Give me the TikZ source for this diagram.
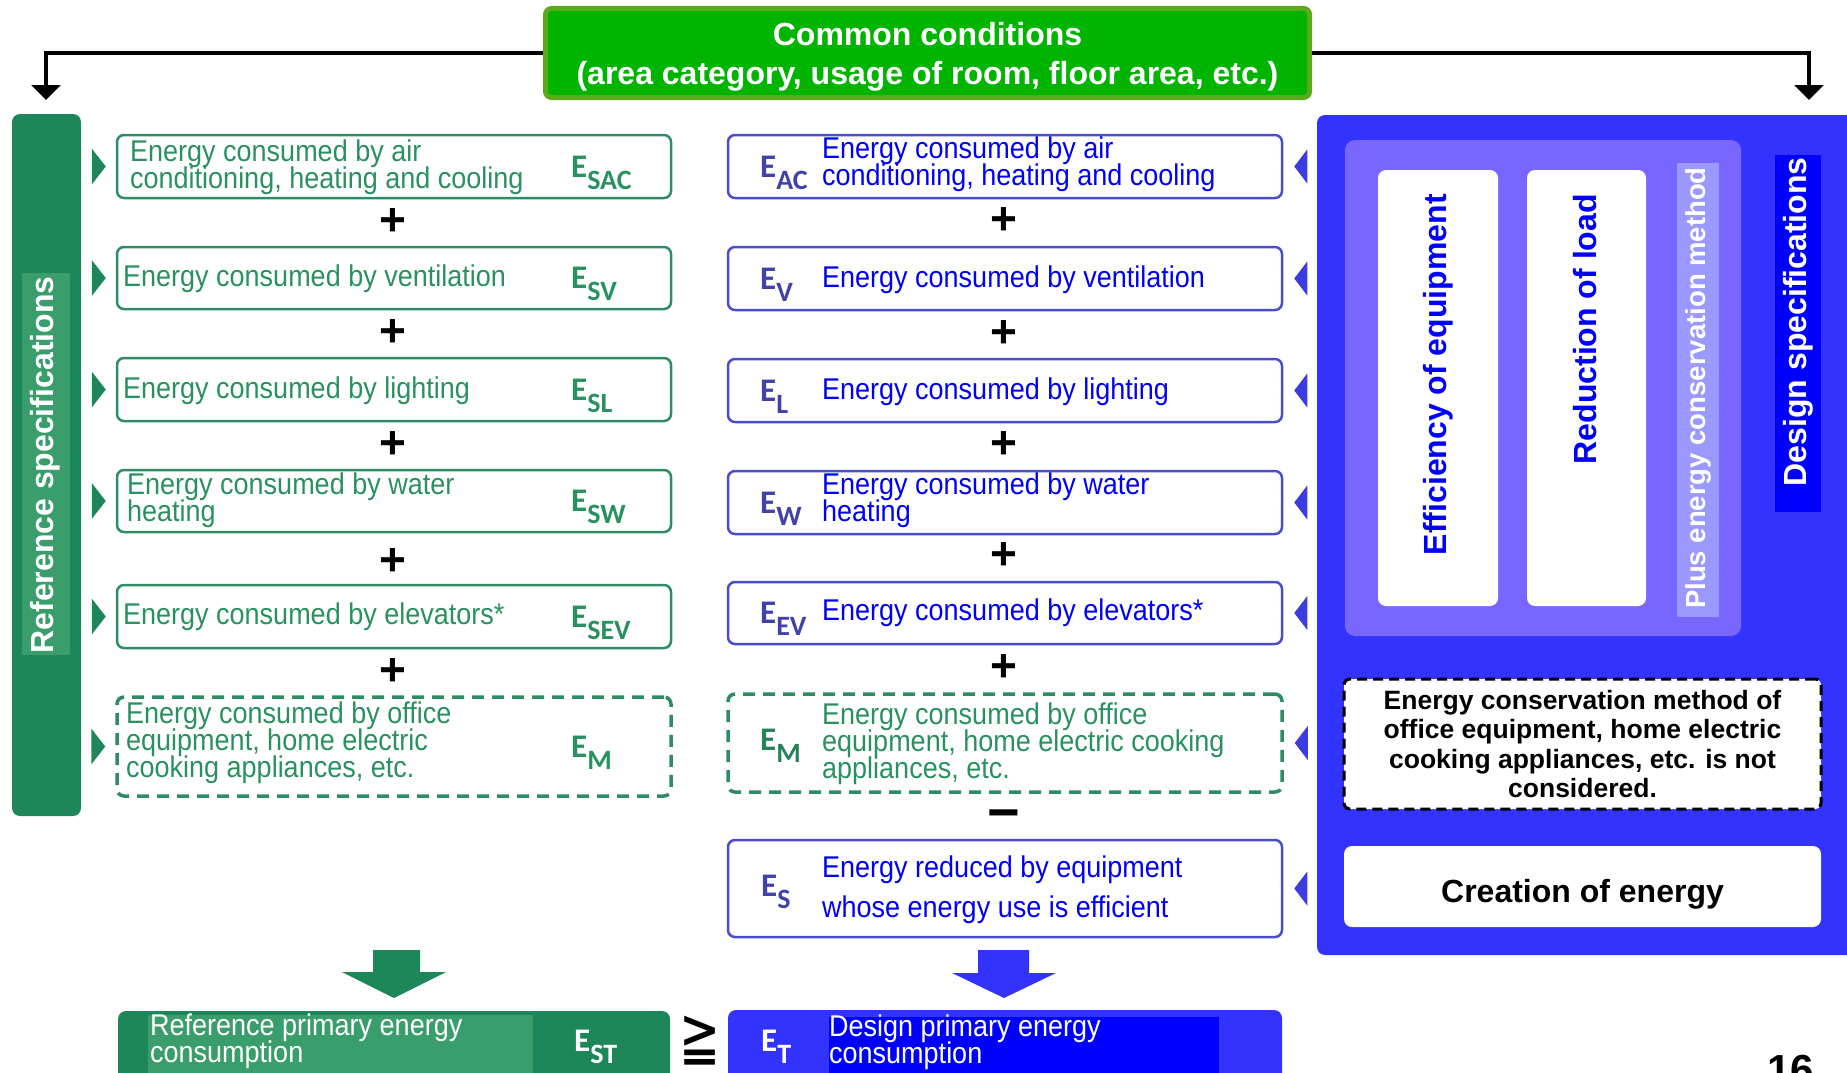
\documentclass[tikz,border=0pt]{standalone}
\usepackage{fontspec}
\setmainfont{Liberation Sans}
\newfontfamily\bodyfam[FakeStretch=0.9]{Liberation Sans}
\newfontfamily\efont{Carlito}
\newfontfamily\djv{DejaVu Sans}
\usetikzlibrary{arrows.meta}

\definecolor{gbar}{RGB}{29,135,90}
\definecolor{gband}{RGB}{58,158,108}
\definecolor{gtext}{RGB}{40,145,95}
\definecolor{gline}{RGB}{45,140,100}
\definecolor{gE}{RGB}{38,130,88}
\definecolor{ctop}{RGB}{0,180,0}
\definecolor{ctopline}{RGB}{90,170,25}
\definecolor{bpanel}{RGB}{51,51,255}
\definecolor{bpurple}{RGB}{120,102,255}
\definecolor{blav}{RGB}{155,152,255}
\definecolor{bpure}{RGB}{0,0,255}
\definecolor{btext}{RGB}{0,0,245}
\definecolor{bline}{RGB}{75,75,205}
\definecolor{bE}{RGB}{65,65,170}
\definecolor{btri}{RGB}{60,60,225}

\newcommand\bodyfont{\bodyfam\fontsize{30}{27}\selectfont\lineskiplimit=-50pt\lineskip=0pt\relax}
\newcommand\Esym[1]{{\efont\bfseries\fontsize{33}{33}\selectfont E\raisebox{-12pt}{\fontsize{28}{28}\selectfont #1}}}

\tikzset{
  gbox/.style={draw=gline, line width=2.5, rounded corners=7, minimum width=554, inner sep=0},
  bbox/.style={draw=bline, line width=2.5, rounded corners=7, minimum width=554, inner sep=0},
  gdash/.style={draw=gline, line width=3.5, dash pattern=on 12pt off 8pt, rounded corners=7, minimum width=554, inner sep=0},
  gtxt/.style={anchor=west, align=left, inner sep=0, text=gtext, font=\bodyfont},
  btxt/.style={anchor=west, align=left, inner sep=0, text=btext, font=\bodyfont},
  wtxt/.style={anchor=west, align=left, inner sep=0, text=white, font=\bodyfont},
  esym/.style={anchor=base west, inner sep=0},
  plus/.style={inner sep=0, font=\bfseries\fontsize{46}{46}\selectfont},
  conn/.style={line width=3.5, -{Triangle[width=29pt,length=15pt]}},
  rottxt/.style={rotate=90, inner sep=0, text=white, font=\bfseries\fontsize{32}{32}\selectfont},
  bluerot/.style={rotate=90, inner sep=0, text=bpure, font=\bfseries\fontsize{32}{32}\selectfont},
}

\begin{document}
\begin{tikzpicture}[x=1pt,y=-1pt]
\useasboundingbox (0,0) rectangle (1847,1073);

% common conditions
\node[fill=ctop, draw=ctopline, line width=5, rounded corners=6, minimum width=764, minimum height=89, inner sep=0] (common) at (927.5,53) {};
\node[text=white, align=center, inner sep=0, font=\bfseries\fontsize{32}{39}\selectfont] (commontxt) at (927.5,57)
  {Common conditions\\(area category, usage of room, floor area, etc.)};
\coordinate (tl) at (46,100);
\coordinate (tr) at (1809,100);
\draw[conn] (common.west) -| (tl);
\draw[conn] (common.east) -| (tr);

% reference bar
\node[fill=gbar, rounded corners=8, minimum width=69, minimum height=702, inner sep=0] (refbar) at (46.5,465) {};
\node[fill=gband, minimum width=48, minimum height=382, inner sep=0] (refband) at (46,464) {};
\node[rottxt] (reftxt) at (45,465) {Reference specifications};

% design panel
\node[fill=bpanel, rounded corners=8, minimum width=545, minimum height=840, inner sep=0] (dpanel) at (1589.5,535) {};
\node[fill=bpurple, rounded corners=10, minimum width=396, minimum height=496, inner sep=0] (inner) at (1543,388) {};
\node[fill=white, rounded corners=8, minimum width=120, minimum height=436, inner sep=0] (eff) at (1438,388) {};
\node[fill=white, rounded corners=8, minimum width=119, minimum height=436, inner sep=0] (red) at (1586.5,388) {};
\node[fill=blav, minimum width=42, minimum height=454, inner sep=0] (plusband) at (1698,389.5) {};
\node[fill=bpure, minimum width=46, minimum height=357, inner sep=0] (dband) at (1798,333) {};
\node[bluerot, anchor=east] (efftxt) at (1438,194) {Efficiency of equipment};
\node[bluerot, anchor=east] (redtxt) at (1585,194) {Reduction of load};
\node[rotate=90, inner sep=0, text=white, font=\bfseries\fontsize{27.5}{27.5}\selectfont] (plustxt) at (1698,388) {Plus energy conservation method};
\node[rottxt, anchor=east] (dtxt) at (1798,157) {Design specifications};
\node[fill=white, draw=black, line width=3, dash pattern=on 10pt off 6pt, rounded corners=6, minimum width=477, minimum height=130,
      inner sep=0, align=center, font=\bfseries\fontsize{26.5}{29.5}\selectfont] (notcons) at (1582.5,744)
  {Energy conservation method of\\office equipment, home electric\\cooking appliances, etc. is not\\considered.};
\node[fill=white, rounded corners=8, minimum width=477, minimum height=81, inner sep=0] (creation) at (1582.5,886.5) {};
\node[inner sep=0, font=\bfseries\fontsize{32}{32}\selectfont] (creationtxt) at (1582.5,894) {Creation of energy};

% left column boxes
\node[gbox, minimum height=63] (L1) at (394,166.5) {};
\node[gbox, minimum height=62] (L2) at (394,278) {};
\node[gbox, minimum height=63] (L3) at (394,389.5) {};
\node[gbox, minimum height=62] (L4) at (394,501) {};
\node[gbox, minimum height=63] (L5) at (394,616.5) {};
\node[gdash, minimum height=99] (L6) at (394,746.5) {};

\node[gtxt] (L1t) at (130,167) {Energy consumed by air\\conditioning, heating and cooling};
\node[gtxt] (L2t) at (123,279) {Energy consumed by ventilation};
\node[gtxt] (L3t) at (123,390.5) {Energy consumed by lighting};
\node[gtxt] (L4t) at (127,500) {Energy consumed by water\\heating};
\node[gtxt] (L5t) at (123,617) {Energy consumed by elevators*};
\node[gtxt] (L6t) at (126,743) {Energy consumed by office\\equipment, home electric\\cooking appliances, etc.};

\node[esym, text=gtext] (L1e) at (571,177) {\Esym{SAC}};
\node[esym, text=gtext] (L2e) at (571,288.5) {\Esym{SV}};
\node[esym, text=gtext] (L3e) at (571,400) {\Esym{SL}};
\node[esym, text=gtext] (L4e) at (571,511.5) {\Esym{SW}};
\node[esym, text=gtext] (L5e) at (571,627) {\Esym{SEV}};
\node[esym, text=gtext] (L6e) at (571,757) {\Esym{M}};

\foreach \n in {L1,L2,L3,L4,L5,L6}
  \fill[gbar, shift={(\n.west)}] (-24,-18) -- (-10,0) -- (-24,18) -- cycle;

\node[plus] (lp1) at (393,222) {+};
\node[plus] (lp2) at (393,333) {+};
\node[plus] (lp3) at (393,445) {+};
\node[plus] (lp4) at (393,562) {+};
\node[plus] (lp5) at (393,672) {+};

% middle column boxes
\node[bbox, minimum height=63] (M1) at (1005,166.5) {};
\node[bbox, minimum height=63] (M2) at (1005,278.5) {};
\node[bbox, minimum height=63] (M3) at (1005,390.5) {};
\node[bbox, minimum height=63] (M4) at (1005,502.5) {};
\node[bbox, minimum height=62] (M5) at (1005,613) {};
\node[gdash, minimum height=98] (M6) at (1005,743) {};
\node[bbox, minimum height=97] (M7) at (1005,888.5) {};

\node[btxt] (M1t) at (822,164.5) {Energy consumed by air\\conditioning, heating and cooling};
\node[btxt] (M2t) at (822,279.5) {Energy consumed by ventilation};
\node[btxt] (M3t) at (822,391.5) {Energy consumed by lighting};
\node[btxt] (M4t) at (822,500) {Energy consumed by water\\heating};
\node[btxt] (M5t) at (822,613) {Energy consumed by elevators*};
\node[gtxt] (M6t) at (822,744) {Energy consumed by office\\equipment, home electric cooking\\appliances, etc.};
\node[btxt, font=\bodyfam\fontsize{30}{40}\selectfont] (M7t) at (822,890) {Energy reduced by equipment\\whose energy use is efficient};

\node[esym, text=bE] (M1e) at (760,177) {\Esym{AC}};
\node[esym, text=bE] (M2e) at (760,289) {\Esym{V}};
\node[esym, text=bE] (M3e) at (760,401) {\Esym{L}};
\node[esym, text=bE] (M4e) at (760,513) {\Esym{W}};
\node[esym, text=bE] (M5e) at (760,623.5) {\Esym{EV}};
\node[esym, text=gE] (M6e) at (760,750) {\Esym{M}};
\node[esym, text=bE] (M7e) at (761,896) {\Esym{S}};

\foreach \n in {M1,M2,M3,M4,M5,M6,M7}
  \fill[btri, shift={(\n.east)}] (24,-17) -- (11,0) -- (24,17) -- cycle;

\node[plus] (mp1) at (1004,221) {+};
\node[plus] (mp2) at (1004,334) {+};
\node[plus] (mp3) at (1004,445) {+};
\node[plus] (mp4) at (1004,556) {+};
\node[plus] (mp5) at (1004,668) {+};
\node[plus] (mm) at (1004,821) {\fontsize{56}{56}\selectfont −};

% block arrows
\fill[gbar] (373,950) -- (420,950) -- (420,972) -- (446,972) -- (394,998) -- (342,972) -- (373,972) -- cycle;
\fill[bpanel] (978,950) -- (1029,950) -- (1029,973) -- (1056,973) -- (1004,998) -- (952,973) -- (978,973) -- cycle;

% bottom totals
\node[fill=gbar, rounded corners=8, minimum width=552, minimum height=90, inner sep=0] (RT) at (394,1056) {};
\fill[gband] (148,1015) rectangle (533,1101);
\node[wtxt] (RTt) at (150,1041) {Reference primary energy\\consumption};
\node[esym, text=white] (RTe) at (574,1051.5) {\Esym{ST}};

\node[fill=bpanel, rounded corners=8, minimum width=554, minimum height=90, inner sep=0] (DT) at (1005,1055) {};
\fill[bpure] (829,1017) rectangle (1219,1101);
\node[wtxt] (DTt) at (829,1042) {Design primary energy\\consumption};
\node[esym, text=white] (DTe) at (761,1051.5) {\Esym{T}};

\node[inner sep=0, font=\djv\fontsize{68}{68}\selectfont] (geq) at (700,1041) {\scalebox{0.72}[1]{≧}};

\node[anchor=base west, inner sep=0, font=\bfseries\fontsize{42}{42}\selectfont] (pg) at (1767,1084) {16};
\end{tikzpicture}
\end{document}
